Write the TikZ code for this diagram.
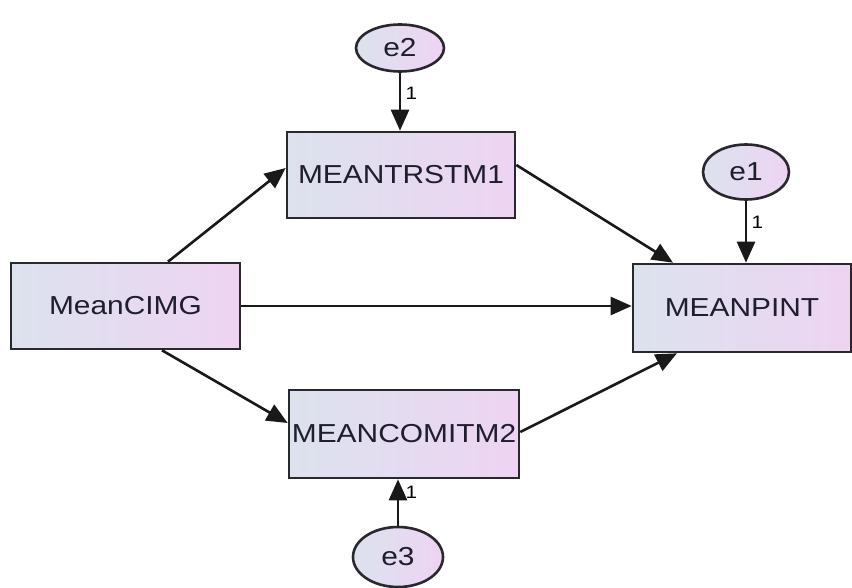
\documentclass[tikz,border=0pt]{standalone}
\usepackage{fontspec}
\setmainfont{Liberation Sans}[FakeStretch=1.15]
\usetikzlibrary{arrows.meta,shapes.geometric,calc}
\definecolor{lc}{RGB}{220,226,238}
\definecolor{rc}{RGB}{238,212,242}
\definecolor{bd}{RGB}{40,40,45}
\definecolor{tx}{RGB}{30,30,45}
\tikzset{
  obs/.style={draw=bd,line width=2.6pt,rectangle,inner sep=0pt,left color=lc,right color=rc,
    font=\fontsize{26}{28}\selectfont,text=tx},
  err/.style={draw=bd,line width=2.6pt,ellipse,inner sep=0pt,left color=lc,right color=rc,
    font=\fontsize{26}{28}\selectfont,text=tx},
  arr/.style={draw=black!90,line width=2.6pt,-{Triangle[length=21pt,width=18pt]}},
  one/.style={font=\fontsize{18}{19}\selectfont,text=black}
}
\begin{document}
\begin{tikzpicture}[x=1pt,y=-1pt]
\useasboundingbox (0,0) rectangle (852,588);
\node[obs,minimum width=229pt,minimum height=86pt] (cimg) at (125.5,306) {MeanCIMG};
\node[obs,minimum width=228pt,minimum height=86pt] (trs) at (401,175) {MEANTRSTM1};
\node[obs,minimum width=218pt,minimum height=88pt] (pint) at (742,308) {MEANPINT};
\node[obs,minimum width=230pt,minimum height=88pt] (com) at (404,434) {MEANCOMITM2};
\node[err,minimum width=88pt,minimum height=47pt] (e2) at (400,48) {e2};
\node[err,minimum width=86pt,minimum height=55pt] (e1) at (746,172) {e1};
\node[err,minimum width=90pt,minimum height=60pt] (e3) at (398,557) {e3};
\draw[arr] ([xshift=42.5pt]cimg.north) -- ([yshift=7pt]trs.west);
\draw[arr] ([xshift=36.5pt]cimg.south) -- ([yshift=11pt]com.west);
\draw[arr] (cimg.east) -- (cimg.east -| pint.west);
\draw[arr] ([yshift=10pt]trs.east) -- ([xshift=-69pt]pint.north);
\draw[arr] ([yshift=2pt]com.east) -- ([xshift=-65pt]pint.south);
\draw[arr] (e2.south) -- (e2.south |- trs.north) node[one,pos=0.35,right=1pt] {1};
\draw[arr] (e1.south) -- (e1.south |- pint.north) node[one,pos=0.35,right=1pt] {1};
\draw[arr] (e3.north) -- (e3.north |- com.south) node[one,pos=0.72,right=3pt] {1};
\end{tikzpicture}
\end{document}
